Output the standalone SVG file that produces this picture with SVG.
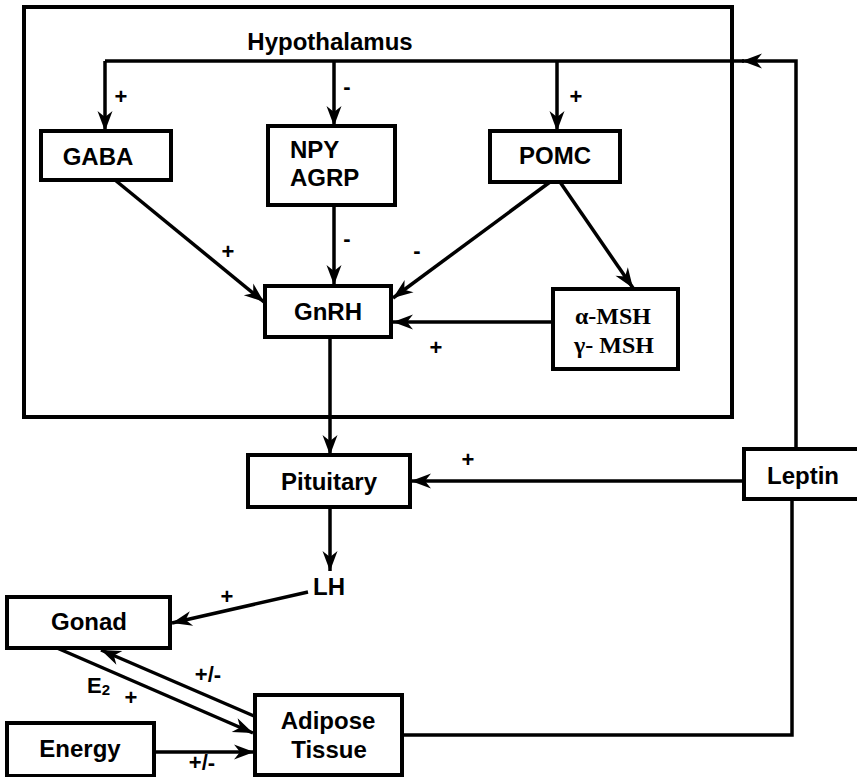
<svg xmlns="http://www.w3.org/2000/svg" width="857" height="777" viewBox="0 0 857 777">
<style>
.box{fill:#fff;stroke:#000;stroke-width:4}
.frame{fill:none;stroke:#000;stroke-width:4}
.t{font-family:"Liberation Sans",Arial,sans-serif;font-weight:bold;font-size:24px;fill:#000}
.s{font-family:"Liberation Serif","Times New Roman",serif;font-weight:bold;font-size:24px;fill:#000}
.l{font-family:"Liberation Sans",Arial,sans-serif;font-weight:bold;font-size:22px;fill:#000}
.c{fill:none;stroke:#000;stroke-width:3.5}
.a{marker-end:url(#arr)}
</style>
<defs>
<marker id="arr" markerUnits="userSpaceOnUse" markerWidth="22" markerHeight="16" refX="20" refY="8" orient="auto" overflow="visible">
<path d="M0,0.5 L20,8 L0,15.5 L6,8 z" fill="#000"/>
</marker>
</defs>
<g id="hypothalamus">
<rect class="frame" x="24" y="7" width="708" height="410"/>
<text class="t" x="330" y="50" text-anchor="middle">Hypothalamus</text>
</g>
<g id="connectors">
<path class="c a" d="M796,449 V61 H742"/>
<path class="c" d="M744,61 H105"/>
<path class="c a" d="M105,61 V131"/>
<path class="c a" d="M334,61 V126"/>
<path class="c a" d="M557,61 V131"/>
<path class="c a" d="M115,180 L264,302"/>
<path class="c a" d="M334,205 V285"/>
<path class="c a" d="M550,182 L393,298"/>
<path class="c a" d="M560,182 L633,288"/>
<path class="c a" d="M553,322 H393"/>
<path class="c a" d="M330,337 V455"/>
<path class="c a" d="M744,481 H411"/>
<path class="c a" d="M330,507 V571"/>
<path class="c a" d="M308,592 L172,623"/>
<path class="c a" d="M57,648 L253,733"/>
<path class="c a" d="M254,716 L101,650"/>
<path class="c a" d="M154,752 H254"/>
<path class="c" d="M402,735 H792 V499"/>
</g>
<g id="labels">
<text class="l" x="121" y="104" text-anchor="middle">+</text>
<text class="l" x="347" y="94" text-anchor="middle">-</text>
<text class="l" x="576" y="104" text-anchor="middle">+</text>
<text class="l" x="228" y="259" text-anchor="middle">+</text>
<text class="l" x="347" y="246" text-anchor="middle">-</text>
<text class="l" x="417" y="258" text-anchor="middle">-</text>
<text class="l" x="436" y="355" text-anchor="middle">+</text>
<text class="l" x="468" y="467" text-anchor="middle">+</text>
<text class="l" x="227" y="604" text-anchor="middle">+</text>
<text class="l" x="208" y="682" text-anchor="middle">+/-</text>
<text class="l" x="87" y="693">E<tspan font-size="15" dy="2">2</tspan></text>
<text class="l" x="131" y="705" text-anchor="middle">+</text>
<text class="l" x="202" y="770" text-anchor="middle">+/-</text>
</g>
<g id="gaba">
<rect class="box" x="41" y="131" width="130" height="49"/>
<text class="t" x="98" y="165" text-anchor="middle">GABA</text>
</g>
<g id="npy">
<rect class="box" x="268" y="126" width="127" height="79"/>
<text class="t" x="290" y="158">NPY</text>
<text class="t" x="290" y="186">AGRP</text>
</g>
<g id="pomc">
<rect class="box" x="490" y="131" width="130" height="51"/>
<text class="t" x="555" y="164" text-anchor="middle">POMC</text>
</g>
<g id="gnrh">
<rect class="box" x="265" y="286" width="126" height="51"/>
<text class="t" x="328" y="320" text-anchor="middle">GnRH</text>
</g>
<g id="msh">
<rect class="box" x="553" y="289" width="125" height="80"/>
<text class="s" x="613" y="324" text-anchor="middle">α-MSH</text>
<text class="s" x="614" y="353" text-anchor="middle">γ- MSH</text>
</g>
<g id="pituitary">
<rect class="box" x="248" y="455" width="162" height="52"/>
<text class="t" x="329" y="490" text-anchor="middle">Pituitary</text>
</g>
<g id="leptin">
<rect class="box" x="744" y="449" width="116" height="50"/>
<text class="t" x="803" y="484" text-anchor="middle">Leptin</text>
</g>
<g id="lh">
<text class="t" x="329" y="595" text-anchor="middle">LH</text>
</g>
<g id="gonad">
<rect class="box" x="7" y="597" width="163" height="51"/>
<text class="t" x="89" y="630" text-anchor="middle">Gonad</text>
</g>
<g id="adipose">
<rect class="box" x="255" y="695" width="147" height="80"/>
<text class="t" x="328" y="729" text-anchor="middle">Adipose</text>
<text class="t" x="329" y="758" text-anchor="middle">Tissue</text>
</g>
<g id="energy">
<rect class="box" x="7" y="723" width="147" height="53"/>
<text class="t" x="80" y="757" text-anchor="middle">Energy</text>
</g>
</svg>
